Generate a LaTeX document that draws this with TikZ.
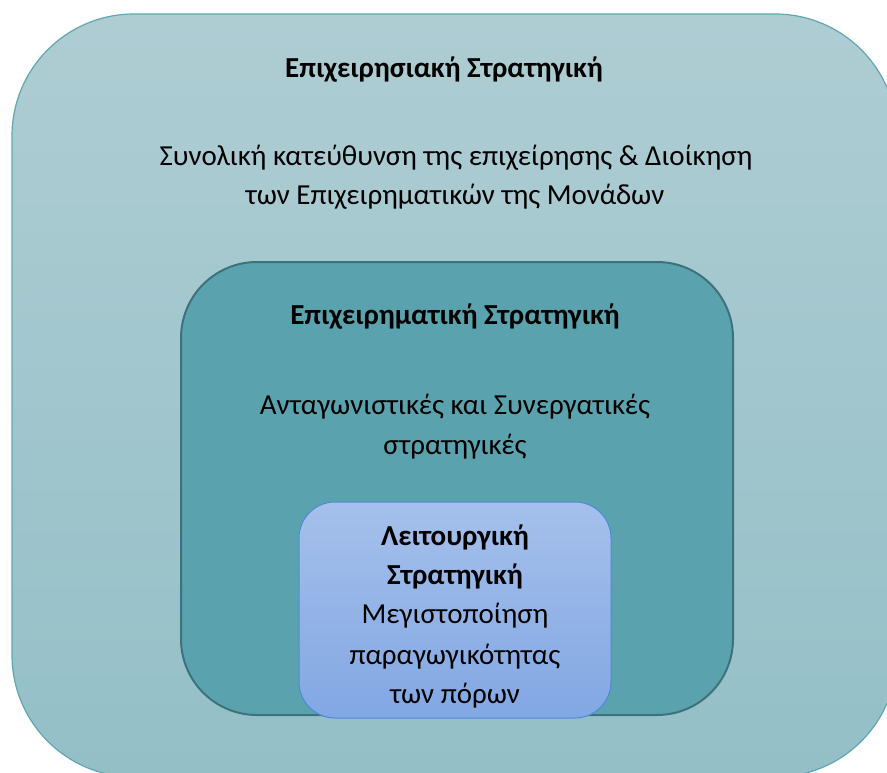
\documentclass[tikz,border=0pt]{standalone}
\usepackage{fontspec}
\setmainfont{Carlito}
\definecolor{outerTop}{HTML}{AECDD3}
\definecolor{outerBot}{HTML}{94BFC7}
\definecolor{outerLine}{HTML}{5FA7B2}
\definecolor{midFill}{HTML}{5AA3AE}
\definecolor{midLine}{HTML}{3E727A}
\definecolor{innerTop}{HTML}{A5C0EB}
\definecolor{innerBot}{HTML}{82A7E3}
\definecolor{innerLine}{HTML}{4C8AD6}
\tikzset{
  txt/.style={anchor=base, inner sep=0pt, font=\fontsize{29}{35}\selectfont},
  ttl/.style={txt, font=\fontsize{29}{35}\selectfont\bfseries},
}
\begin{document}
\begin{tikzpicture}[x=1pt, y=-1pt]
  \useasboundingbox (0,0) rectangle (887,773);
  \clip (0,0) rectangle (887,773);
  % outer level
  \draw[outerLine, line width=1.2pt, rounded corners=122pt, top color=outerTop, bottom color=outerBot]
    (12,14) rectangle (897,777);
  % middle level
  \draw[midLine, line width=2pt, rounded corners=76pt, fill=midFill]
    (181,262) rectangle (733,715);
  % inner level
  \draw[innerLine, line width=1pt, rounded corners=36pt, top color=innerTop, bottom color=innerBot]
    (299,502) rectangle (611,718);

  \node[ttl] (t1) at (444,78) {Επιχειρησιακή Στρατηγική};
  \node[txt] (d1a) at (456,166) {Συνολική κατεύθυνση της επιχείρησης \& Διοίκηση};
  \node[txt] (d1b) at (455,205) {των Επιχειρηματικών της Μονάδων};

  \node[ttl] (t2) at (455,324) {Επιχειρηματική Στρατηγική};
  \node[txt] (d2a) at (455,414) {Ανταγωνιστικές και Συνεργατικές};
  \node[txt] (d2b) at (455,454) {στρατηγικές};

  \node[ttl] (t3a) at (455,545) {Λειτουργική};
  \node[ttl] (t3b) at (455,584) {Στρατηγική};
  \node[txt] (d3a) at (455,623) {Μεγιστοποίηση};
  \node[txt] (d3b) at (455,664) {παραγωγικότητας};
  \node[txt] (d3c) at (455,703) {των πόρων};
\end{tikzpicture}
\end{document}
